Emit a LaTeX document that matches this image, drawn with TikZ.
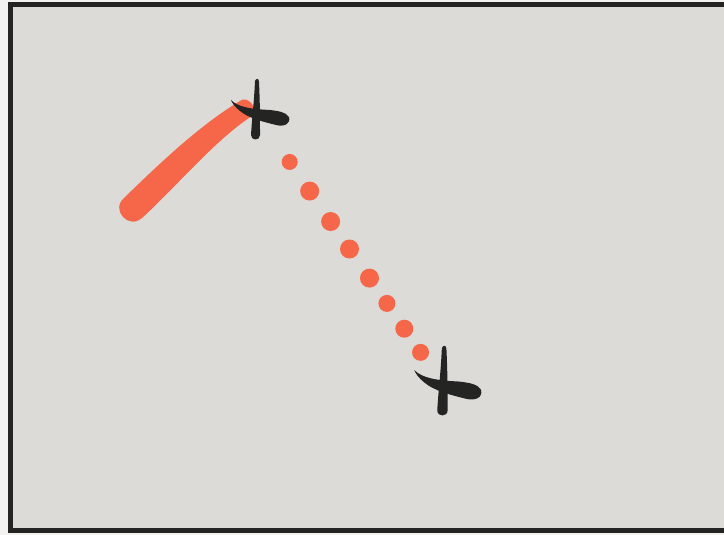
\documentclass[tikz,border=0pt]{standalone}
\usepackage{tikz}
\usetikzlibrary{calc}
\definecolor{paperwhite}{RGB}{243,242,239}
\definecolor{boardgrey}{RGB}{220,219,216}
\definecolor{inkblack}{RGB}{36,36,34}
\definecolor{brushred}{RGB}{246,102,72}
\tikzset{
  frm/.style={draw=inkblack,line width=5pt,fill=boardgrey},
  brush/.style={fill=brushred},
  dt/.style={fill=brushred},
  ink/.style={fill=inkblack},
  xmark/.pic={
    % upright stroke, wider at its foot
    \fill[ink] (-1,-32) .. controls (0,-35) and (3,-35) .. (3,-31)
      .. controls (4,-10) and (4,5) .. (4,22)
      .. controls (4,28) and (-5,28) .. (-5,22)
      .. controls (-4,5) and (-2,-10) .. (-1,-32) -- cycle;
    % cross stroke, thin at left, heavy at right
    \fill[ink] (-25,-13) .. controls (-18,-6) and (-6,-4) .. (14,-3)
      .. controls (22,-2) and (30,-1) .. (33,4)
      .. controls (35,11) and (28,14) .. (20,12)
      .. controls (8,9) and (-8,5) .. (-16,-2)
      .. controls (-21,-6) and (-24,-10) .. (-25,-13) -- cycle;
  },
}

\begin{document}
\begin{tikzpicture}[x=1pt,y=-1pt]
  \useasboundingbox (0,0) rectangle (724,535);
  \clip (0,0) rectangle (724,535);
  \fill[paperwhite] (0,0) rectangle (724,535);
  \draw[frm] (10,5) rectangle (740,530);

  % the two marks
  \coordinate (start) at (256,113);
  \coordinate (stop) at (443,385);

  % brush stroke ending at the first mark
  \fill[brush] (124,198) .. controls (160,163) and (200,125) .. (240,101)
    .. controls (247.5,94.4) and (259.5,109.4) .. (252,116)
    .. controls (215,140) and (178,185) .. (142,218)
    .. controls (128.5,229.8) and (110.5,209.8) .. (124,198) -- cycle;

  % dotted track between the marks
  \foreach \t/\r in {0.18/8,0.287/9.5,0.399/9.5,0.50/9.5,
                     0.607/9.5,0.70/8.5,0.793/9,0.88/8.5}
    \fill[dt] ($(start)!\t!(stop)$) circle (\r);

  \pic at (start) {xmark};
  \pic[scale=1.15] at (stop) {xmark};
\end{tikzpicture}
\end{document}
